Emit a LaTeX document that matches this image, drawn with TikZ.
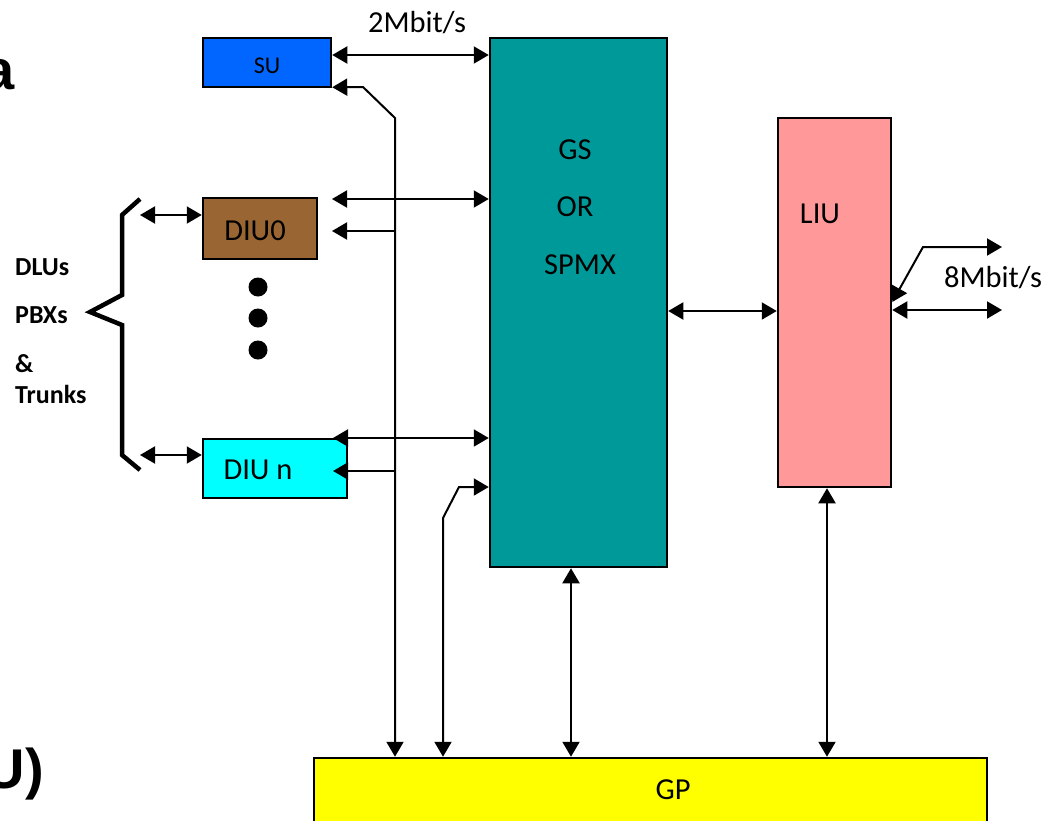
\documentclass[tikz,border=0pt]{standalone}
\usepackage{fontspec}
\setmainfont{Carlito}
\newfontfamily\arialfont{Liberation Sans}
\usetikzlibrary{arrows.meta}
\definecolor{sublue}{RGB}{0,102,255}
\definecolor{gsteal}{RGB}{0,153,153}
\definecolor{liupink}{RGB}{255,153,153}
\definecolor{diubrown}{RGB}{153,102,51}
\definecolor{diucyan}{RGB}{0,255,255}
\definecolor{gpyellow}{RGB}{255,255,0}
\tikzset{
  blk/.style={draw=black, line width=2.5pt, inner sep=0pt, anchor=center},
  lbl/.style={font=\fontsize{30.5}{36}\selectfont, inner sep=0pt, anchor=base},
  smalllbl/.style={font=\fontsize{24}{28}\selectfont, inner sep=0pt, anchor=base},
  boldlbl/.style={font=\fontsize{26}{30}\selectfont\bfseries, inner sep=0pt, anchor=base west},
  biglbl/.style={font=\fontsize{56}{60}\selectfont\arialfont\bfseries, inner sep=0pt, anchor=base east},
  conn/.style={line width=2pt, draw=black},
  dbl/.style={conn, {Triangle[length=15pt,width=17pt]}-{Triangle[length=15pt,width=17pt]}},
  one/.style={conn, -{Triangle[length=15pt,width=17pt]}},
}
\begin{document}
\begin{tikzpicture}[x=1pt,y=-1pt]
\useasboundingbox (0,0) rectangle (1052,820);
% boxes
\node[blk, fill=sublue, minimum width=128pt, minimum height=49pt] (su) at (267,62.5) {};
\node[blk, fill=gsteal, minimum width=177pt, minimum height=529pt] (gs) at (578.5,302.5) {};
\node[blk, fill=liupink, minimum width=113pt, minimum height=369pt] (liu) at (834.5,302.5) {};
\node[blk, fill=diubrown, minimum width=114pt, minimum height=61pt] (diu0) at (260,228.5) {};
\node[blk, fill=diucyan, minimum width=144pt, minimum height=59pt] (diun) at (275,468.5) {};
\node[blk, fill=gpyellow, minimum width=673pt, minimum height=82pt] (gp) at (650.5,799) {};
% texts
\node[smalllbl] (tsu) at (267,73) {SU};
\node[lbl] (tgs) at (575,159) {GS};
\node[lbl] (tor) at (575,216) {OR};
\node[lbl] (tspmx) at (580,274) {SPMX};
\node[lbl] (tliu) at (820,223) {LIU};
\node[lbl] (tdiu0) at (255,240) {DIU0};
\node[lbl] (tdiun) at (258,479) {DIU n};
\node[lbl] (tgp) at (673,799) {GP};
\node[lbl] (t2m) at (417,32) {2Mbit/s};
\node[lbl] (t8m) at (993,287) {8Mbit/s};
\node[boldlbl] (tdlu) at (15,275) {DLUs};
\node[boldlbl] (tpbx) at (15,323) {PBXs};
\node[boldlbl] (tamp) at (15,372) {\&};
\node[boldlbl] (ttrk) at (15,403) {Trunks};
\node[biglbl] (ta) at (15,89) {a};
\node[biglbl] (tu) at (44,788) {U)};
% dots
\fill (258,287) circle (9.5pt);
\fill (258,318) circle (9.5pt);
\fill (258,350) circle (9.5pt);
% brace
\draw[line width=4.5pt, line join=miter] (140,199) -- (122,215) -- (122,295) -- (90,312) -- (122,325) -- (122,455) -- (140,470);
% coordinates
\coordinate (v1) at (395,118);
\coordinate (s1) at (363,87);
\coordinate (b1) at (395,231);
\coordinate (e1) at (332,231);
\coordinate (e0) at (332,199);
\coordinate (b2) at (395,471);
\coordinate (e2) at (333,471);
\coordinate (e3) at (333,438);
\coordinate (k1) at (443,518);
\coordinate (k2) at (459,487);
\coordinate (r1) at (923,247);
\coordinate (r2) at (1002,247);
\coordinate (r3) at (1002,310);
\coordinate (br1) at (140,215);
\coordinate (br2) at (140,455);
% connectors
\draw[dbl] ([yshift=7.5pt]su.east) -- ([yshift=7.5pt]su.east -| gs.west);
\draw[dbl] ([yshift=1pt]su.south east) -- (s1) -- (v1) -- (v1 |- gp.north);
\draw[one] (b1) -- (e1);
\draw[dbl] (e0) -- (e0 -| gs.west);
\draw[dbl] (e3) -- (e3 -| gs.west);
\draw[one] (b2) -- (e2);
\draw[dbl] (k1 |- gp.north) -- (k1) -- (k2) -- (k2 -| gs.west);
\draw[dbl] ([xshift=-7.5pt]gs.south) -- ([xshift=-7.5pt]gs.south |- gp.north);
\draw[dbl] ([yshift=-8.5pt]gs.east) -- ([yshift=-8.5pt]gs.east -| liu.west);
\draw[dbl] ([xshift=-7.5pt]liu.south) -- ([xshift=-7.5pt]liu.south |- gp.north);
\draw[dbl] ([yshift=-7.5pt]liu.east) -- (r3);
\draw[dbl] ([yshift=0.5pt]liu.east) -- (r1) -- (r2);
\draw[dbl] (br1) -- (br1 -| diu0.west);
\draw[dbl] (br2) -- (br2 -| diun.west);
\end{tikzpicture}
\end{document}
